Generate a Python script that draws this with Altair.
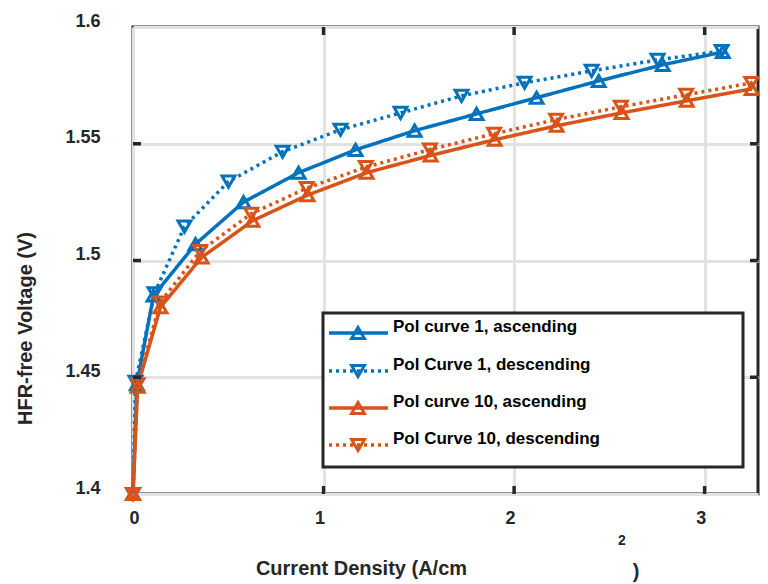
import altair as alt
import pandas as pd

# ---- data ----
series_names = ["Pol curve 1, ascending", "Pol Curve 1, descending",
                "Pol curve 10, ascending", "Pol Curve 10, descending"]

x_b_asc = [0, 0.02, 0.108, 0.328, 0.58, 0.869, 1.168, 1.478, 1.803, 2.118, 2.444, 2.780, 3.095]
y_b_asc = [1.4, 1.447, 1.485, 1.507, 1.525, 1.5376, 1.5474, 1.5556, 1.5628, 1.5697, 1.5769, 1.5838, 1.5893]

x_b_desc = [0, 0.013, 0.113, 0.270, 0.501, 0.785, 1.089, 1.404, 1.724, 2.055, 2.407, 2.753, 3.089]
y_b_desc = [1.4, 1.448, 1.486, 1.5145, 1.5338, 1.5466, 1.556, 1.5632, 1.5705, 1.5761, 1.5812, 1.5859, 1.5897]

x_o_asc = [0, 0.024, 0.144, 0.36, 0.627, 0.916, 1.226, 1.562, 1.898, 2.223, 2.564, 2.906, 3.247]
y_o_asc = [1.4, 1.446, 1.480, 1.5013, 1.517, 1.528, 1.5376, 1.545, 1.5517, 1.5577, 1.5632, 1.5684, 1.5735]

x_o_desc = [0, 0.024, 0.142, 0.352, 0.62, 0.912, 1.222, 1.558, 1.895, 2.22, 2.56, 2.903, 3.245]
y_o_desc = [1.4, 1.447, 1.482, 1.504, 1.520, 1.531, 1.540, 1.5475, 1.5543, 1.5603, 1.5658, 1.571, 1.576]

x_ticks = [0, 1, 2, 3]
y_ticks = [1.4, 1.45, 1.5, 1.55, 1.6]

colors = ["#0072BD", "#0072BD", "#D95319", "#D95319"]
shapes = ["triangle-up", "triangle-down", "triangle-up", "triangle-down"]
dashes = [[1, 0], [3, 4], [1, 0], [3, 4]]

W, H = 625, 467
FONT = "Liberation Sans"
DARK = "#262626"

rows = []
for name, xs_, ys_ in zip(series_names,
                          [x_b_asc, x_b_desc, x_o_asc, x_o_desc],
                          [y_b_asc, y_b_desc, y_o_asc, y_o_desc]):
    for i, (xv, yv) in enumerate(zip(xs_, ys_)):
        rows.append({"series": name, "x": xv, "y": yv, "i": i})
df = pd.DataFrame(rows)

xs = alt.Scale(domain=[0, 3.28], nice=False, zero=False)
ys = alt.Scale(domain=[1.4, 1.6], nice=False, zero=False)

X = alt.X("x:Q", scale=xs,
          axis=alt.Axis(values=x_ticks, format="d", title="Current Density (A/cm",
                        labelPadding=15, labelOffset=-4,
                        titleX=228, titleY=74, titleAlign="center", titleBaseline="middle"))
Y = alt.Y("y:Q", scale=ys,
          axis=alt.Axis(values=y_ticks, format="~g", title="HFR-free Voltage (V)",
                        labelPadding=33, labelOffset=-6,
                        titleX=-108, titleY=301, titleAlign="center", titleBaseline="middle"))

color = alt.Color("series:N", scale=alt.Scale(domain=series_names, range=colors), legend=None)
shape = alt.Shape("series:N", scale=alt.Scale(domain=series_names, range=shapes), legend=None)
dash = alt.StrokeDash("series:N", scale=alt.Scale(domain=series_names, range=dashes), legend=None)

lines = alt.Chart(df).mark_line(strokeWidth=3.5, strokeCap="butt").encode(
    x=X, y=Y, color=color, strokeDash=dash, order="i:Q")
points = alt.Chart(df).mark_point(filled=False, strokeWidth=3, size=165, opacity=1).encode(
    x="x:Q", y="y:Q", color=color, shape=shape)

# inward tick marks (MATLAB style)
xt = pd.DataFrame({"x": x_ticks[1:]})
yt = pd.DataFrame({"y": y_ticks[1:-1]})
tick_bottom = alt.Chart(xt).mark_rule(color=DARK, strokeWidth=3.5).encode(
    x="x:Q", y=alt.value(H), y2=alt.value(H - 8))
tick_top = alt.Chart(xt).mark_rule(color=DARK, strokeWidth=3.5).encode(
    x="x:Q", y=alt.value(0), y2=alt.value(8))
tick_left = alt.Chart(yt).mark_rule(color=DARK, strokeWidth=3.5).encode(
    y="y:Q", x=alt.value(0), x2=alt.value(8))
tick_right = alt.Chart(yt).mark_rule(color=DARK, strokeWidth=3.5).encode(
    y="y:Q", x=alt.value(W), x2=alt.value(W - 8))

one = pd.DataFrame({"a": [0]})

# x-title superscript and closing parenthesis (placed as in the reference)
sup = alt.Chart(one).mark_text(text="2", font=FONT, fontWeight="bold", fontSize=14,
                               color=DARK, align="center", baseline="middle").encode(
    x=alt.value(489), y=alt.value(514))
paren = alt.Chart(one).mark_text(text=")", font=FONT, fontWeight="bold", fontSize=20,
                                 color=DARK, align="center", baseline="middle").encode(
    x=alt.value(503), y=alt.value(545))

# legend box
legend_box = alt.Chart(one).mark_rect(fill="white", stroke=DARK, strokeWidth=3).encode(
    x=alt.value(190), x2=alt.value(610), y=alt.value(286), y2=alt.value(440))
legend_layers = [legend_box]
row_y = [306, 344, 381, 418]
for k, name in enumerate(series_names):
    ly = row_y[k]
    legend_layers.append(
        alt.Chart(one).mark_rule(color=colors[k], strokeWidth=3.5, strokeDash=dashes[k],
                                 strokeCap="butt").encode(
            x=alt.value(196), x2=alt.value(255), y=alt.value(ly)))
    legend_layers.append(
        alt.Chart(one).mark_point(filled=False, shape=shapes[k], color=colors[k], size=165,
                                  strokeWidth=3, opacity=1).encode(
            x=alt.value(225), y=alt.value(ly)))
    legend_layers.append(
        alt.Chart(one).mark_text(text=name, font=FONT, fontWeight="bold", fontSize=17,
                                 color="#000000", align="left", baseline="middle").encode(
            x=alt.value(260), y=alt.value(ly - 6)))

chart = alt.layer(
    lines, points, tick_bottom, tick_top, tick_left, tick_right,
    *legend_layers, sup, paren
).properties(
    width=W, height=H,
    autosize=alt.AutoSizeParams(type="none"),
    padding={"left": 125, "top": 19, "right": 2, "bottom": 90},
    background="white",
).configure_view(
    stroke=DARK, strokeWidth=3
).configure_axis(
    labelFont=FONT, labelFontWeight="bold", labelFontSize=18, labelColor=DARK,
    titleFont=FONT, titleFontWeight="bold", titleFontSize=20, titleColor=DARK,
    domain=False, ticks=False, tickSize=0,
    grid=True, gridColor="#e2e2e2", gridWidth=3,
)

chart.save("out.html", embed_options={"renderer": "svg", "actions": False})
